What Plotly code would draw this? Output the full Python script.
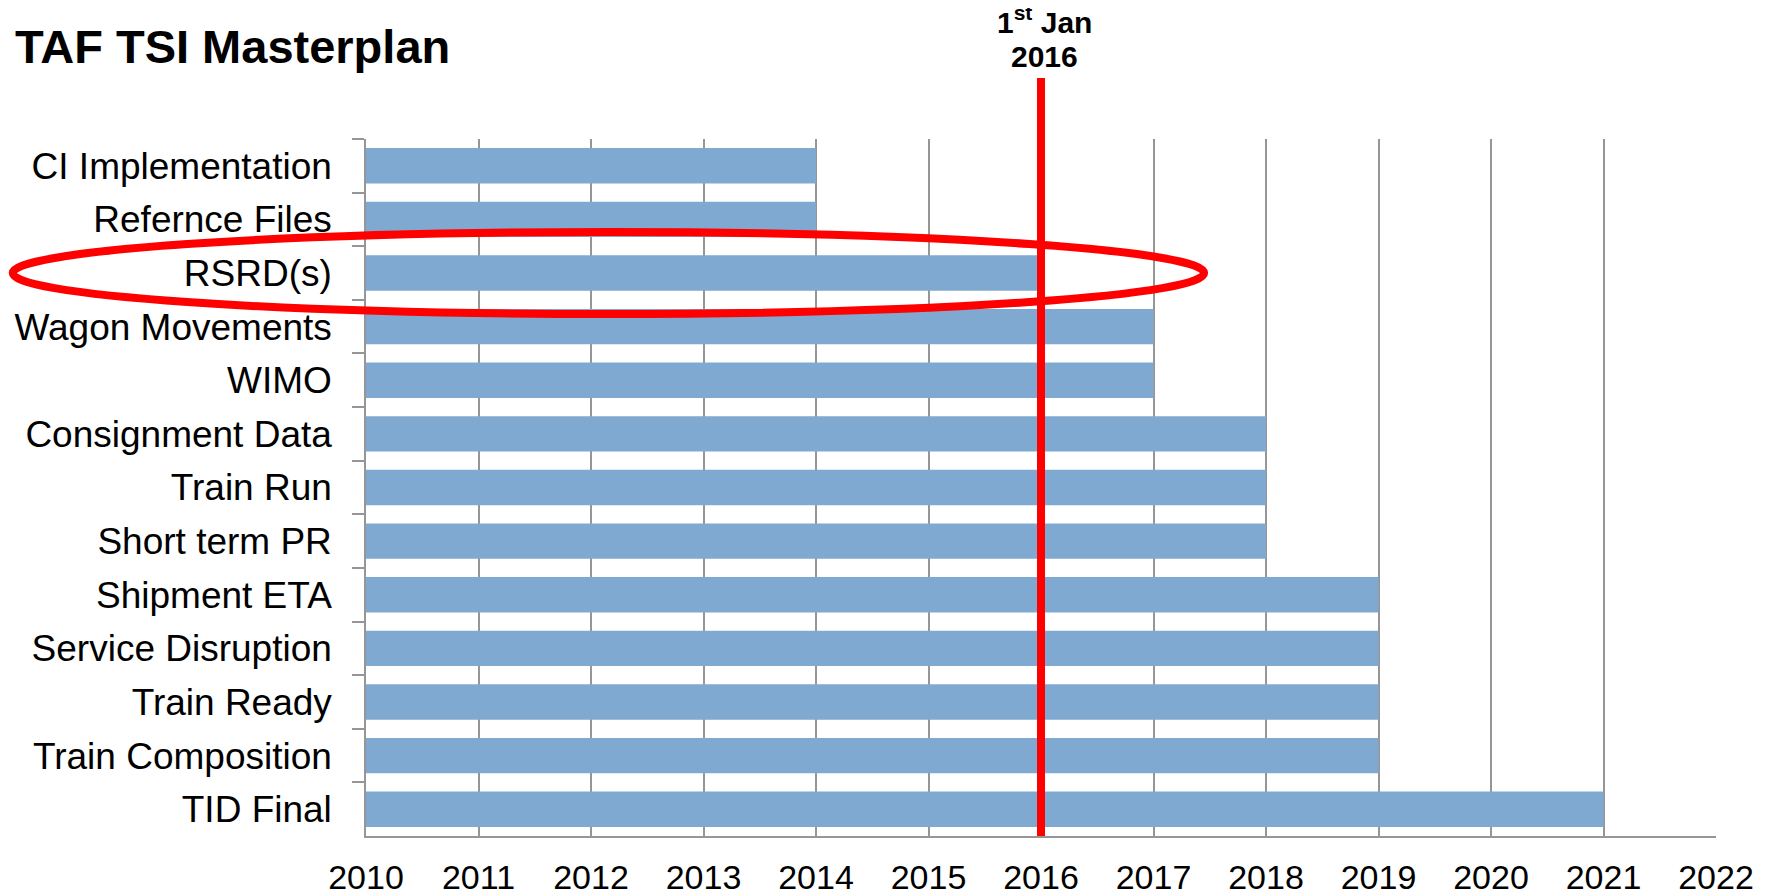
import plotly.graph_objects as go

# ---- data ----
tasks = ["CI Implementation", "Refernce Files", "RSRD(s)", "Wagon Movements", "WIMO",
         "Consignment Data", "Train Run", "Short term PR", "Shipment ETA",
         "Service Disruption", "Train Ready", "Train Composition", "TID Final"]
start_year = [2010, 2010, 2010, 2010, 2010, 2010, 2010, 2010, 2010, 2010, 2010, 2010, 2010]
end_year = [2014, 2014, 2016, 2017, 2017, 2018, 2018, 2018, 2019, 2019, 2019, 2019, 2021]
year_ticks = list(range(2010, 2023))
milestone_year = 2016
milestone_line1 = "1<sup>st</sup> Jan"
milestone_line2 = "2016"
highlight_task = "RSRD(s)"
highlight_years = (2006.86, 2017.45)

# page has an 8px body margin; figure is sized to fit the window
OFF = 8
W, H = 1769 - OFF, 896 - OFF
ML = 366 - OFF
MT = 139 - OFF
PLOT_R = 1716 - OFF
PLOT_B = 836 - OFF
MR = W - PLOT_R
MB = H - PLOT_B
PLOT_H = PLOT_B - MT
XMIN, XMAX = 2010, 2022

BAR_COLOR = "#7FA9D1"
GRID = "#969696"
RED = "#FF0000"
FONT = "Liberation Sans, Arial, sans-serif"


def ypaper_from_page(page_y):
    return (PLOT_B - (page_y - OFF)) / PLOT_H


def xpaper(year):
    return (year - XMIN) / (XMAX - XMIN)


fig = go.Figure()
fig.add_trace(go.Bar(
    y=tasks,
    x=[e - s for s, e in zip(start_year, end_year)],
    base=start_year,
    orientation="h",
    marker=dict(color=BAR_COLOR, line=dict(width=0)),
    width=0.66,
    showlegend=False,
    hoverinfo="skip",
))

n = len(tasks)
idx = tasks.index(highlight_task)
cy = 1 - (idx + 0.5) / n
ry = 41 / PLOT_H

shapes = [
    dict(type="line", xref="x", yref="paper", x0=milestone_year, x1=milestone_year,
         y0=0, y1=ypaper_from_page(78), line=dict(color=RED, width=8), layer="above"),
    dict(type="circle", xref="paper", yref="paper",
         x0=xpaper(highlight_years[0]), x1=xpaper(highlight_years[1]),
         y0=cy - ry, y1=cy + ry, line=dict(color=RED, width=8), layer="above"),
]

ann_font = dict(family=FONT, size=30, color="black")
annotations = [
    dict(text="<b>" + milestone_line1 + "</b>", xref="x", yref="paper",
         x=milestone_year, y=ypaper_from_page(20), xanchor="center", yanchor="middle",
         xshift=3, showarrow=False, font=ann_font),
    dict(text="<b>" + milestone_line2 + "</b>", xref="x", yref="paper",
         x=milestone_year, y=ypaper_from_page(57), xanchor="center", yanchor="middle",
         xshift=3, showarrow=False, font=ann_font),
]

fig.update_layout(
    width=W, height=H,
    margin=dict(l=ML, r=MR, t=MT, b=MB, pad=0, autoexpand=False),
    paper_bgcolor="white", plot_bgcolor="white",
    font=dict(family=FONT, color="black"),
    bargap=0.34,
    shapes=shapes,
    title=dict(text="<b>TAF TSI Masterplan</b>",
               font=dict(family=FONT, size=47, color="black"),
               xref="container", x=(15 - OFF) / W, xanchor="left",
               yref="container", y=1 - (47 - OFF) / H, yanchor="middle"),
    annotations=annotations,
)

fig.update_xaxes(
    range=[XMIN, XMAX], tickmode="array", tickvals=year_ticks,
    ticktext=[str(y) for y in year_ticks],
    showgrid=True, gridcolor=GRID, gridwidth=1.5,
    showline=True, linecolor=GRID, linewidth=1.5,
    ticks="", zeroline=False, automargin=False,
    tickfont=dict(family=FONT, size=34, color="black"),
    ticklabelstandoff=10,
)
fig.update_yaxes(
    categoryorder="array", categoryarray=tasks, autorange="reversed",
    showgrid=False, showline=True, linecolor=GRID, linewidth=1.5,
    ticks="outside", ticklen=12, tickcolor=GRID, tickwidth=1.5,
    tickson="boundaries", automargin=False,
    tickfont=dict(family=FONT, size=37, color="black"),
    ticklabelstandoff=25,
)

fig.write_html("out.html")
